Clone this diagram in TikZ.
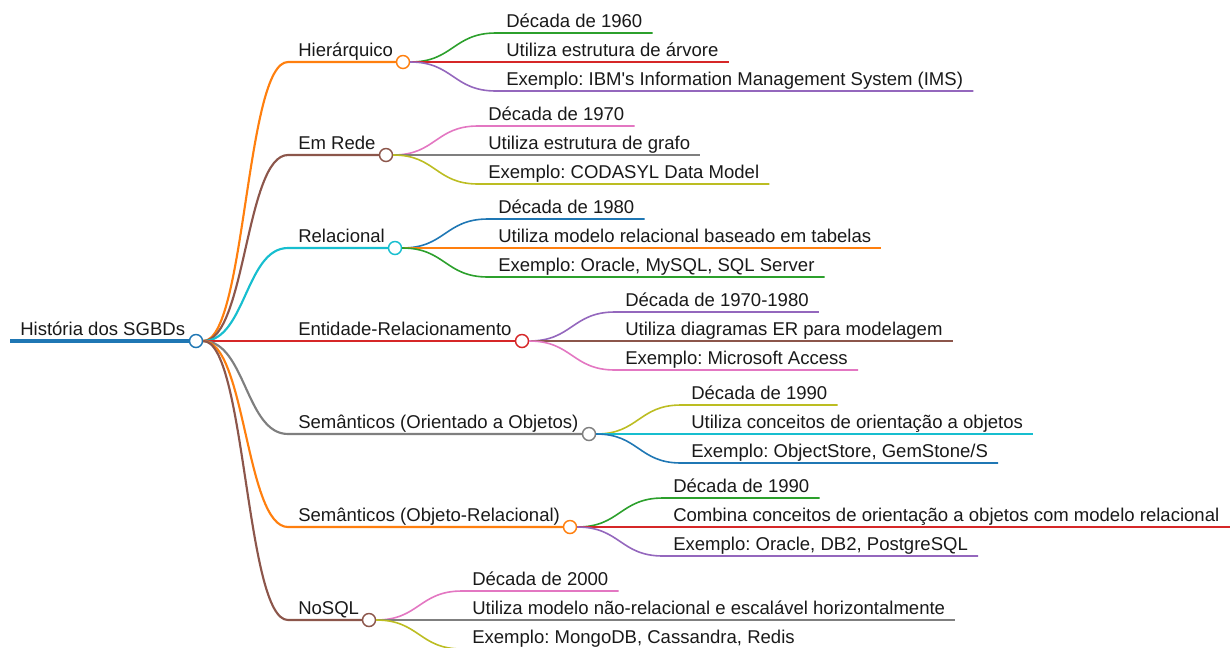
\documentclass[tikz,border=0pt]{standalone}
\usepackage{fontspec}
\setmainfont{Liberation Sans}
\usepackage{xcolor}
\usetikzlibrary{positioning, calc}
\frenchspacing

\definecolor{c-blue}{HTML}{1F77B4}
\definecolor{c-orange}{HTML}{FF7F0E}
\definecolor{c-green}{HTML}{2CA02C}
\definecolor{c-red}{HTML}{D62728}
\definecolor{c-purple}{HTML}{9467BD}
\definecolor{c-brown}{HTML}{8C564B}
\definecolor{c-pink}{HTML}{E377C2}
\definecolor{c-gray}{HTML}{7F7F7F}
\definecolor{c-olive}{HTML}{BCBD22}
\definecolor{c-cyan}{HTML}{17BECF}

\begin{document}
\begin{tikzpicture}[x=0.75pt, y=-0.75pt,
    every node/.style={font=\fontsize{13.9}{16}\selectfont, text=black!90},
    topic/.style={anchor=south west, inner xsep=7.5pt, inner ysep=4.2pt, text depth=0pt},
    dot/.style={circle, draw, fill=white, line width=1.1pt, minimum size=9.75pt, inner sep=0pt},
    root line/.style={line width=3pt},
    child line/.style={line width=1.6pt},
    leaf line/.style={line width=1.2pt},
    link/.style={to path={let \p1=(\tikztostart), \p2=(\tikztotarget) in
        .. controls ({(\x1+\x2)/2},\y1) and ({(\x1+\x2)/2},\y2) .. (\tikztotarget)}}]
        \useasboundingbox (0,0) rectangle (1232,647);
        \clip (0,0) rectangle (1232,647);
        % Root
        \node[topic] (root) at (10,341) {História dos SGBDs};
        \node[dot, draw=c-blue] (rootdot) at (196,341) {};
        \draw[root line, c-blue] (root.south west) -- (rootdot);
        % Models
        \node[topic] (hier) at (288,62) {Hierárquico};
        \node[topic] (rede) at (288,155) {Em Rede};
        \node[topic] (rel) at (288,248) {Relacional};
        \node[topic] (er) at (288,341) {Entidade-Relacionamento};
        \node[topic] (oo) at (288,434) {Semânticos (Orientado a Objetos)};
        \node[topic] (orel) at (288,527) {Semânticos (Objeto-Relacional)};
        \node[topic] (nosql) at (288,620) {NoSQL};
        \node[dot, draw=c-orange] (hierdot) at (403,62) {};
        \node[dot, draw=c-brown] (rededot) at (386,155) {};
        \node[dot, draw=c-cyan] (reldot) at (395,248) {};
        \node[dot, draw=c-red] (erdot) at (522,341) {};
        \node[dot, draw=c-gray] (oodot) at (589,434) {};
        \node[dot, draw=c-orange] (oreldot) at (570,527) {};
        \node[dot, draw=c-brown] (nosqldot) at (369,620) {};
        \draw[link, child line, c-orange] (rootdot.east) to (hier.south west) -- (hierdot);
        \draw[link, child line, c-brown] (rootdot.east) to (rede.south west) -- (rededot);
        \draw[link, child line, c-cyan] (rootdot.east) to (rel.south west) -- (reldot);
        \draw[link, child line, c-red] (rootdot.east) to (er.south west) -- (erdot);
        \draw[link, child line, c-gray] (rootdot.east) to (oo.south west) -- (oodot);
        \draw[link, child line, c-orange] (rootdot.east) to (orel.south west) -- (oreldot);
        \draw[link, child line, c-brown] (rootdot.east) to (nosql.south west) -- (nosqldot);
        % Hierarquico
        \node[topic] (hier1) at (496,33) {Década de 1960};
        \node[topic] (hier2) at (496,62) {Utiliza estrutura de árvore};
        \node[topic] (hier3) at (496,91) {Exemplo: IBM\textquotesingle s Information Management System (IMS)};
        \draw[link, leaf line, c-green] (hierdot.east) to (hier1.south west) -- (hier1.south east);
        \draw[link, leaf line, c-red] (hierdot.east) to (hier2.south west) -- (hier2.south east);
        \draw[link, leaf line, c-purple] (hierdot.east) to (hier3.south west) -- (hier3.south east);
        % Em Rede
        \node[topic] (rede1) at (478,126) {Década de 1970};
        \node[topic] (rede2) at (478,155) {Utiliza estrutura de grafo};
        \node[topic] (rede3) at (478,184) {Exemplo: CODASYL Data Model};
        \draw[link, leaf line, c-pink] (rededot.east) to (rede1.south west) -- (rede1.south east);
        \draw[link, leaf line, c-gray] (rededot.east) to (rede2.south west) -- (rede2.south east);
        \draw[link, leaf line, c-olive] (rededot.east) to (rede3.south west) -- (rede3.south east);
        % Relacional
        \node[topic] (rel1) at (488,219) {Década de 1980};
        \node[topic] (rel2) at (488,248) {Utiliza modelo relacional baseado em tabelas};
        \node[topic] (rel3) at (488,277) {Exemplo: Oracle, MySQL, SQL Server};
        \draw[link, leaf line, c-blue] (reldot.east) to (rel1.south west) -- (rel1.south east);
        \draw[link, leaf line, c-orange] (reldot.east) to (rel2.south west) -- (rel2.south east);
        \draw[link, leaf line, c-green] (reldot.east) to (rel3.south west) -- (rel3.south east);
        % Entidade-Relacionamento
        \node[topic] (er1) at (615,312) {Década de 1970-1980};
        \node[topic] (er2) at (615,341) {Utiliza diagramas ER para modelagem};
        \node[topic] (er3) at (615,370) {Exemplo: Microsoft Access};
        \draw[link, leaf line, c-purple] (erdot.east) to (er1.south west) -- (er1.south east);
        \draw[link, leaf line, c-brown] (erdot.east) to (er2.south west) -- (er2.south east);
        \draw[link, leaf line, c-pink] (erdot.east) to (er3.south west) -- (er3.south east);
        % Orientado a Objetos
        \node[topic] (oo1) at (681,405) {Década de 1990};
        \node[topic] (oo2) at (681,434) {Utiliza conceitos de orientação a objetos};
        \node[topic] (oo3) at (681,463) {Exemplo: ObjectStore, GemStone/S};
        \draw[link, leaf line, c-olive] (oodot.east) to (oo1.south west) -- (oo1.south east);
        \draw[link, leaf line, c-cyan] (oodot.east) to (oo2.south west) -- (oo2.south east);
        \draw[link, leaf line, c-blue] (oodot.east) to (oo3.south west) -- (oo3.south east);
        % Objeto-Relacional
        \node[topic] (orel1) at (663,498) {Década de 1990};
        \node[topic] (orel2) at (663,527) {Combina conceitos de orientação a objetos com modelo relacional};
        \node[topic] (orel3) at (663,556) {Exemplo: Oracle, DB2, PostgreSQL};
        \draw[link, leaf line, c-green] (oreldot.east) to (orel1.south west) -- (orel1.south east);
        \draw[link, leaf line, c-red] (oreldot.east) to (orel2.south west) -- (orel2.south east);
        \draw[link, leaf line, c-purple] (oreldot.east) to (orel3.south west) -- (orel3.south east);
        % NoSQL
        \node[topic] (nosql1) at (462,591) {Década de 2000};
        \node[topic] (nosql2) at (462,620) {Utiliza modelo não-relacional e escalável horizontalmente};
        \node[topic] (nosql3) at (462,649) {Exemplo: MongoDB, Cassandra, Redis};
        \draw[link, leaf line, c-pink] (nosqldot.east) to (nosql1.south west) -- (nosql1.south east);
        \draw[link, leaf line, c-gray] (nosqldot.east) to (nosql2.south west) -- (nosql2.south east);
        \draw[link, leaf line, c-olive] (nosqldot.east) to (nosql3.south west) -- (nosql3.south east);
    \end{tikzpicture}
\end{document}
